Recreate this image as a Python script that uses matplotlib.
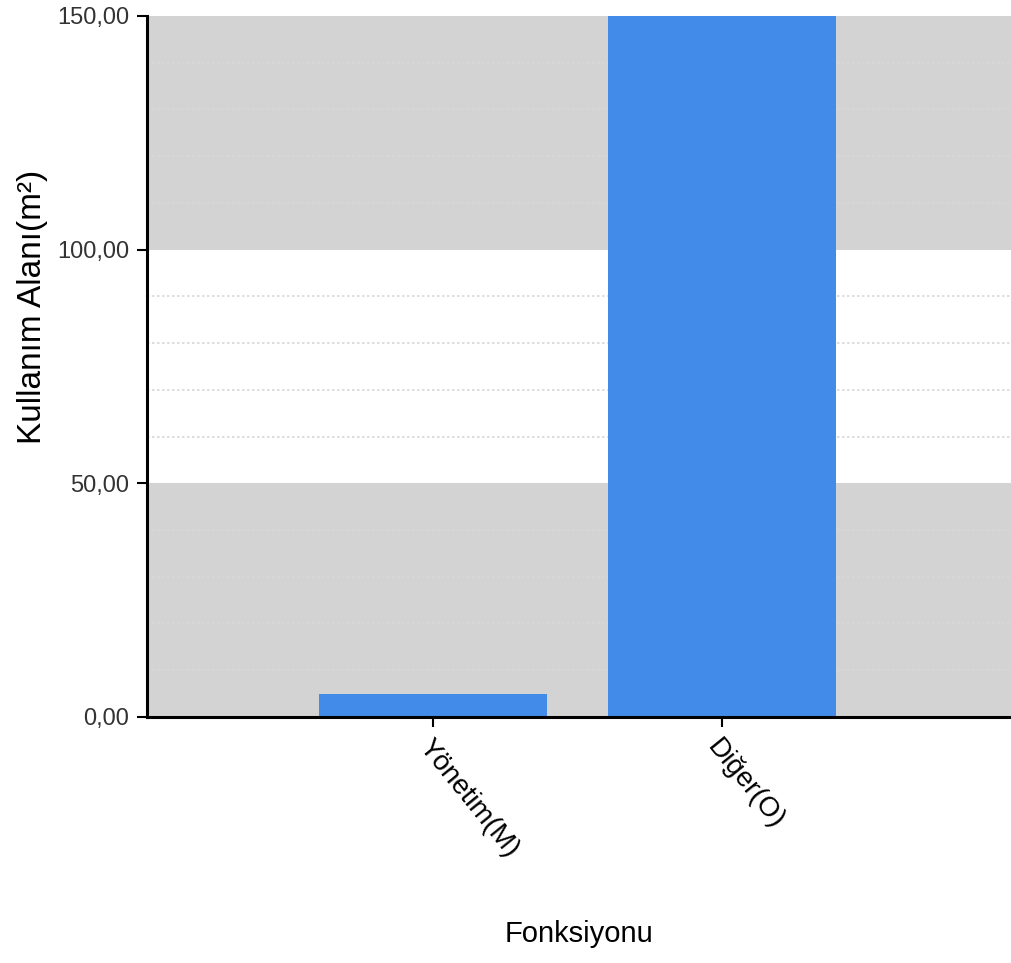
import matplotlib
matplotlib.use("Agg")
import matplotlib.pyplot as plt
from matplotlib.ticker import MultipleLocator, FuncFormatter
from matplotlib import font_manager

categories = ["Yönetim(M)", "Diğer(O)"]
values = [5.0, 150.0]
y_label = "Kullanım Alanı(m²)"
x_label = "Fonksiyonu"

names = {f.name for f in font_manager.fontManager.ttflist}
narrow = "Liberation Sans Narrow" if "Liberation Sans Narrow" in names else "Liberation Sans"
fam = [narrow, "DejaVu Sans"]

fig = plt.figure(figsize=(10.11, 9.63), dpi=100)
ax = fig.add_axes([0.1454, 0.2555, 0.8546, 0.7279])

ax.axhspan(0, 50, color="#d3d3d3", zorder=0, lw=0)
ax.axhspan(100, 150, color="#d3d3d3", zorder=0, lw=0)

ax.yaxis.set_major_locator(MultipleLocator(50))
ax.yaxis.set_minor_locator(MultipleLocator(10))
ax.grid(which="minor", axis="y", color="#d8d8d8", linestyle=(0, (1.5, 1.5)), linewidth=1.2, zorder=0.5)
ax.set_axisbelow(True)

x = list(range(len(categories)))
ax.bar(x, values, width=0.79, color="#428be8", zorder=2)

ax.set_xlim(-0.99, 2.0)
ax.set_ylim(0, 150)

for s in ["top", "right"]:
    ax.spines[s].set_visible(False)
for s in ["left", "bottom"]:
    ax.spines[s].set_linewidth(2.2)
    ax.spines[s].set_color("black")
    ax.spines[s].set_zorder(3)

ax.yaxis.set_major_formatter(FuncFormatter(lambda v, p: f"{v:.2f}".replace(".", ",")))
ax.tick_params(axis="y", which="major", length=7, width=1.5, pad=6, labelsize=17, labelcolor="#333333")
ax.tick_params(axis="y", which="minor", length=0)
for lbl in ax.get_yticklabels():
    lbl.set_family(fam)

ax.set_xticks(x)
ax.set_xticklabels(categories, rotation=-51, ha="left", va="top", rotation_mode="anchor", fontsize=20, family=fam)
ax.tick_params(axis="x", length=7, width=1.5, pad=6)

ax.set_ylabel(y_label, fontsize=24, family=fam)
ax.set_xlabel(x_label, fontsize=21, family=fam)
ax.yaxis.set_label_coords(-0.115, 0.585)
ax.xaxis.set_label_coords(0.5, -0.29)

fig.savefig("out.png", dpi=100)
